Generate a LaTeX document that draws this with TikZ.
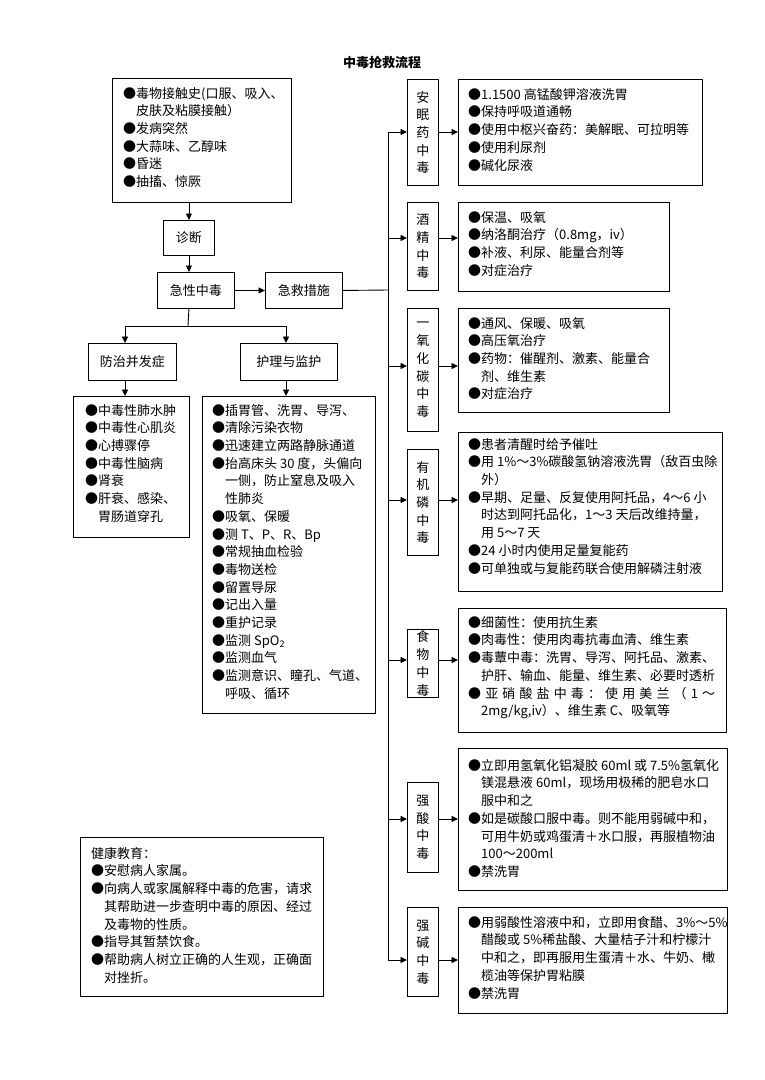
\documentclass[tikz,border=0pt]{standalone}
\usepackage{fontspec}
\setmainfont{Noto Sans CJK SC}
\usetikzlibrary{arrows.meta}
\newcommand\fnt{\fontsize{13}{17.7}\selectfont}
\newcommand\bx[5]{\node[box, minimum width=#4pt, minimum height=#5pt] (#1) at (#2,#3) {};}
\begin{document}
\begin{tikzpicture}[x=1pt,y=-1pt,
  box/.style={draw, line width=0.9pt, inner sep=0pt, anchor=north west, align=center, font=\fnt},
  txt/.style={anchor=north west, inner sep=0pt, align=left, font=\fnt},
  arr/.style={-{Triangle[length=6.5pt,width=6pt]}, line width=0.9pt},
  ln/.style={line width=0.9pt}]
\useasboundingbox[fill=white] (0,0) rectangle (764,1080);

% title
\node[font=\fontsize{13}{15}\selectfont\bfseries] (title) at (382,62) {中毒抢救流程};

% left column
\bx{A}{112}{78}{179}{124}
\node[txt] (At) at (123,87) {%
●毒物接触史(口服、吸入、\\%
\phantom{●}皮肤及粘膜接触）\\%
●发病突然\\%
●大蒜味、乙醇味\\%
●昏迷\\%
●抽搐、惊厥};

\node[box, minimum width=51pt, minimum height=35pt] (zd) at (163,220) {诊断};
\node[box, minimum width=77pt, minimum height=36pt] (jx) at (157,272) {急性中毒};
\node[box, minimum width=77pt, minimum height=36pt] (jj) at (265,272) {急救措施};
\node[box, minimum width=88pt, minimum height=37pt] (fz) at (88,343) {防治并发症};
\node[box, minimum width=97pt, minimum height=37pt] (hl) at (240,343) {护理与监护};

\bx{fzb}{73}{396}{116}{141}
\node[txt] (fzt) at (85,404) {%
●中毒性肺水肿\\%
●中毒性心肌炎\\%
●心搏骤停\\%
●中毒性脑病\\%
●肾衰\\%
●肝衰、感染、\\%
\phantom{●}胃肠道穿孔};

\bx{hlb}{202}{396}{173}{317}
\node[txt] (hlt) at (212,404) {%
●插胃管、洗胃、导泻、\\%
●清除污染衣物\\%
●迅速建立两路静脉通道\\%
●抬高床头 30 度，头偏向\\%
\phantom{●}一侧，防止窒息及吸入\\%
\phantom{●}性肺炎\\%
●吸氧、保暖\\%
●测 T、P、R、Bp\\%
●常规抽血检验\\%
●毒物送检\\%
●留置导尿\\%
●记出入量\\%
●重护记录\\%
●监测 SpO\textsubscript{2}\\%
●监测血气\\%
●监测意识、瞳孔、气道、\\%
\phantom{●}呼吸、循环};

\bx{he}{80}{837}{243}{159}
\node[txt] (het) at (91,847) {%
健康教育：\\%
●安慰病人家属。\\%
●向病人或家属解释中毒的危害，请求\\%
\phantom{●}其帮助进一步查明中毒的原因、经过\\%
\phantom{●}及毒物的性质。\\%
●指导其暂禁饮食。\\%
●帮助病人树立正确的人生观，正确面\\%
\phantom{●}对挫折。};

% right column: labels
\node[box, minimum width=31pt, minimum height=106pt] (L1) at (407,79) {安\\眠\\药\\中\\毒};
\node[box, minimum width=31pt, minimum height=88pt] (L2) at (407,202) {酒\\精\\中\\毒};
\node[box, minimum width=31pt, minimum height=123pt] (L3) at (407,308) {一\\氧\\化\\碳\\中\\毒};
\node[box, minimum width=31pt, minimum height=106pt] (L4) at (407,449) {有\\机\\磷\\中\\毒};
\node[box, minimum width=31pt, minimum height=68pt] (L5) at (407,629) {食\\物\\中\\毒};
\node[box, minimum width=31pt, minimum height=90pt] (L6) at (407,782) {强\\酸\\中\\毒};
\node[box, minimum width=31pt, minimum height=89pt] (L7) at (407,907) {强\\碱\\中\\毒};

% right column: contents
\bx{B1}{458}{79}{244}{106}
\node[txt] (B1t) at (468,88) {%
●1.1500 高锰酸钾溶液洗胃\\%
●保持呼吸道通畅\\%
●使用中枢兴奋药：美解眠、可拉明等\\%
●使用利尿剂\\%
●碱化尿液};

\bx{B2}{458}{202}{211}{89}
\node[txt] (B2t) at (468,211) {%
●保温、吸氧\\%
●纳洛酮治疗（0.8mg，iv）\\%
●补液、利尿、能量合剂等\\%
●对症治疗};

\bx{B3}{458}{308}{211}{104}
\node[txt] (B3t) at (468,317) {%
●通风、保暖、吸氧\\%
●高压氧治疗\\%
●药物：催醒剂、激素、能量合\\%
\phantom{●}剂、维生素\\%
●对症治疗};

\bx{B4}{458}{432}{264}{159}
\node[txt] (B4t) at (468,438) {%
●患者清醒时给予催吐\\%
●用 1\%～3\%碳酸氢钠溶液洗胃（敌百虫除\\%
\phantom{●}外）\\%
●早期、足量、反复使用阿托品，4～6 小\\%
\phantom{●}时达到阿托品化，1～3 天后改维持量，\\%
\phantom{●}用 5～7 天\\%
●24 小时内使用足量复能药\\%
●可单独或与复能药联合使用解磷注射液};

\bx{B5}{458}{608}{268}{124}
\node[txt] (B5t) at (468,616) {%
●细菌性：使用抗生素\\%
●肉毒性：使用肉毒抗毒血清、维生素\\%
●毒蕈中毒：洗胃、导泻、阿托品、激素、\\%
\phantom{●}护肝、输血、能量、维生素、必要时透析\\%
\makebox[247pt][s]{● 亚 硝 酸 盐 中 毒 ： 使 用 美 兰 （ 1 ～}\\%
\phantom{●}2mg/kg,iv）、维生素 C、吸氧等};

\bx{B6}{458}{748}{269}{142}
\node[txt] (B6t) at (468,759) {%
●立即用氢氧化铝凝胶 60ml 或 7.5\%氢氧化\\%
\phantom{●}镁混悬液 60ml，现场用极稀的肥皂水口\\%
\phantom{●}服中和之\\%
●如是碳酸口服中毒。则不能用弱碱中和，\\%
\phantom{●}可用牛奶或鸡蛋清＋水口服，再服植物油\\%
\phantom{●}100～200ml\\%
●禁洗胃};

\bx{B7}{458}{907}{269}{106}
\node[txt] (B7t) at (468,916) {%
●用弱酸性溶液中和，立即用食醋、3\%～5\%\\%
\phantom{●}醋酸或 5\%稀盐酸、大量桔子汁和柠檬汁\\%
\phantom{●}中和之，即再服用生蛋清＋水、牛奶、橄\\%
\phantom{●}榄油等保护胃粘膜\\%
●禁洗胃};

% connectors, left
\draw[arr] (A.south -| zd.north) -- (zd.north);
\draw[arr] (zd.south) -- (zd.south |- jx.north);
\draw[arr] (jx.east) -- (jx.east -| jj.west);
\coordinate (split) at (188,326);
\coordinate (sl) at (125,326);
\coordinate (sr) at (286,326);
\draw[ln] (zd.south |- jx.south) -- (split);
\draw[ln] (sl) -- (sr);
\draw[arr] (sl) -- (sl |- fz.north);
\draw[arr] (sr) -- (sr |- hl.north);
\draw[arr] (sl |- fz.south) -- (sl |- fzb.north);
\draw[arr] (sr |- hl.south) -- (sr |- hlb.north);

% trunk
\coordinate (ttop) at (388,132);
\coordinate (tbot) at (388,960);
\coordinate (tj) at (388,290);
\draw[ln] (ttop) -- (tbot);
\draw[ln] (jj.east) -- (tj);
\coordinate (t1) at (388,132);
\coordinate (t2) at (388,238);
\coordinate (t3) at (388,366);
\coordinate (t4) at (388,500);
\coordinate (t5) at (388,660);
\coordinate (t6) at (388,819);
\coordinate (t7) at (388,960);
\foreach \i in {1,...,7}{
  \draw[arr] (t\i) -- (t\i -| L\i.west);
  \draw[arr] (t\i -| L\i.east) -- (t\i -| B\i.west);
}
\end{tikzpicture}
\end{document}
